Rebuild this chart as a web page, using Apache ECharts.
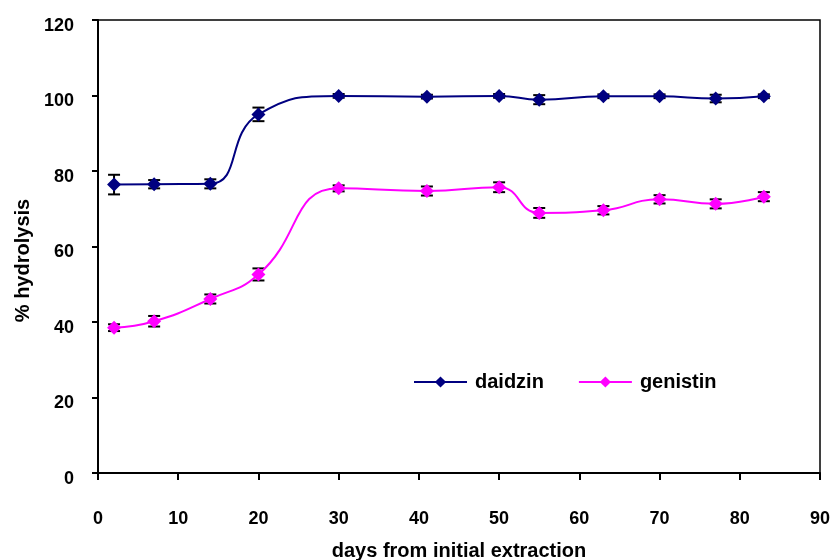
<!DOCTYPE html>
<html>
<head>
<meta charset="utf-8">
<script src="https://cdn.jsdelivr.net/npm/echarts@6/dist/echarts.min.js"></script>
<style>
  html, body { margin: 0; padding: 0; background: #fff; }
  #main { width: 838px; height: 560px; }
</style>
</head>
<body>
<div id="main"></div>
<script>
var chart = echarts.init(document.getElementById('main'));

// days from initial extraction
var days = [2, 7, 14, 20, 30, 41, 50, 55, 63, 70, 77, 83];
// % hydrolysis
var daidzin = [76.4, 76.5, 76.6, 95.0, 99.9, 99.7, 99.9, 98.9, 99.8, 99.8, 99.2, 99.8];
var genistin = [38.5, 40.2, 46.1, 52.6, 75.4, 74.7, 75.7, 68.9, 69.6, 72.5, 71.3, 73.2];
// error (+/-)
var daidzinErr = [2.6, 1.1, 1.2, 1.8, 0.5, 0.5, 0.5, 1.2, 0.5, 0.5, 1.0, 0.5];
var genistinErr = [0.9, 1.4, 1.2, 1.6, 0.8, 1.2, 1.3, 1.3, 1.1, 1.1, 1.2, 1.2];

var font = '"Liberation Sans", Arial, sans-serif';

function pairs(ys) {
  return days.map(function(d, i) { return [d, ys[i]]; });
}
function errData(ys, es) {
  return days.map(function(d, i) { return [d, ys[i] - es[i], ys[i] + es[i]]; });
}

function renderErr(params, api) {
  var x = api.value(0);
  var lo = api.coord([x, api.value(1)]);
  var hi = api.coord([x, api.value(2)]);
  var w = 6;
  var st = { stroke: '#000', lineWidth: 2 };
  return {
    type: 'group',
    children: [
      { type: 'line', shape: { x1: lo[0], y1: lo[1], x2: hi[0], y2: hi[1] }, style: st },
      { type: 'line', shape: { x1: lo[0] - w, y1: lo[1], x2: lo[0] + w, y2: lo[1] }, style: st },
      { type: 'line', shape: { x1: hi[0] - w, y1: hi[1], x2: hi[0] + w, y2: hi[1] }, style: st }
    ]
  };
}

chart.setOption({
  animation: false,
  backgroundColor: '#fff',
  grid: {
    left: 98,
    right: 18,
    top: 20,
    bottom: 87,
    outerBoundsMode: 'none',
    containLabel: false,
    show: true,
    borderColor: '#000',
    borderWidth: 1.5
  },
  legend: {
    left: 408,
    top: 367,
    itemWidth: 53,
    itemHeight: 14,
    itemGap: 34,
    data: ['daidzin', 'genistin'],
    textStyle: {
      fontFamily: font,
      fontWeight: 'bold',
      fontSize: 20,
      color: '#000',
      padding: [0, 0, 0, 3]
    }
  },
  xAxis: {
    type: 'value',
    min: 0,
    max: 90,
    interval: 10,
    name: 'days from initial extraction',
    nameLocation: 'middle',
    nameGap: 68,
    nameTextStyle: { fontFamily: font, fontWeight: 'bold', fontSize: 20, color: '#000' },
    axisLine: { lineStyle: { color: '#000', width: 2 } },
    axisTick: { inside: false, length: 7, lineStyle: { color: '#000', width: 2 } },
    axisLabel: { margin: 37, fontFamily: font, fontWeight: 'bold', fontSize: 18, color: '#000' },
    splitLine: { show: false }
  },
  yAxis: {
    type: 'value',
    min: 0,
    max: 120,
    interval: 20,
    name: '% hydrolysis',
    nameLocation: 'middle',
    nameGap: 57,
    nameTextStyle: {
      fontFamily: font, fontWeight: 'bold', fontSize: 20, color: '#000',
      padding: [0, 28, 0, 0]
    },
    axisLine: { lineStyle: { color: '#000', width: 2 } },
    axisTick: { inside: false, length: 6, lineStyle: { color: '#000', width: 2 } },
    axisLabel: {
      margin: 24,
      formatter: '{a|{value}}',
      rich: {
        a: {
          fontFamily: font, fontWeight: 'bold', fontSize: 18, color: '#000',
          padding: [12, 0, 0, 0]
        }
      }
    },
    splitLine: { show: false }
  },
  series: [
    {
      name: 'daidzinErr',
      type: 'custom',
      z: 1,
      renderItem: renderErr,
      data: errData(daidzin, daidzinErr)
    },
    {
      name: 'genistinErr',
      type: 'custom',
      z: 1,
      renderItem: renderErr,
      data: errData(genistin, genistinErr)
    },
    {
      name: 'daidzin',
      type: 'line',
      z: 3,
      smooth: 0.5,
      symbol: 'diamond',
      symbolSize: 14,
      color: '#000080',
      lineStyle: { color: '#000080', width: 2 },
      itemStyle: { color: '#000080' },
      data: pairs(daidzin)
    },
    {
      name: 'genistin',
      type: 'line',
      z: 3,
      smooth: 0.5,
      symbol: 'diamond',
      symbolSize: 14,
      color: '#FF00FF',
      lineStyle: { color: '#FF00FF', width: 2 },
      itemStyle: { color: '#FF00FF' },
      data: pairs(genistin)
    }
  ]
});
</script>
</body>
</html>
